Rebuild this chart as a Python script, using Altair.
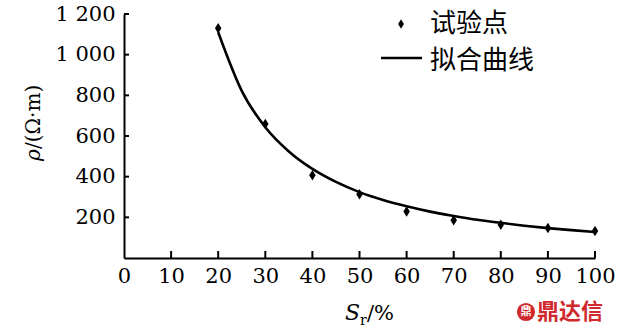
import altair as alt
import pandas as pd

# Measured points (试验点)
sr_pts = [20, 30, 40, 50, 60, 70, 80, 90, 100]
rho_pts = [1130, 659, 407, 314, 229, 186, 163, 148, 133]

# Fitted curve (拟合曲线)
sr_fit = [20, 25, 30, 35, 40, 45, 50, 55, 60, 65, 70, 75, 80, 85, 90, 95, 100]
rho_fit = [1110, 822, 643, 524, 438, 374, 324, 285, 254, 228, 207, 188, 173, 159, 147, 137, 128]

x_ticks = [0, 10, 20, 30, 40, 50, 60, 70, 80, 90, 100]
y_ticks = [200, 400, 600, 800, 1000, 1200]

W, H = 471, 244
SERIF = "DejaVu Serif"
CJK = "Noto Sans CJK SC"

pts = pd.DataFrame({"sr": sr_pts, "rho": rho_pts})
fit = pd.DataFrame({"sr": sr_fit, "rho": rho_fit})

xs = alt.Scale(domain=[0, 100], nice=False)
ys = alt.Scale(domain=[0, 1200], nice=False)

x_axis = alt.Axis(values=x_ticks, ticks=False, grid=False, title=None,
                  labelPadding=7, domainColor="black", domainWidth=2,
                  labelFlush=False, labelOverlap=False)
y_axis = alt.Axis(values=y_ticks, ticks=False, grid=False, title=None,
                  labelPadding=9, domainColor="black", domainWidth=2,
                  labelExpr="replace(format(datum.value, ','), ',', ' ')",
                  labelFlush=False, labelOverlap=False)

curve = alt.Chart(fit).mark_line(color="black", strokeWidth=2.6, interpolate="monotone").encode(
    x=alt.X("sr:Q", scale=xs, axis=x_axis),
    y=alt.Y("rho:Q", scale=ys, axis=y_axis),
)

DIAMOND = "M0,-1L0.62,0L0,1L-0.62,0Z"
points = alt.Chart(pts).mark_point(shape=DIAMOND, filled=True, color="black",
                                   size=110, opacity=1).encode(
    x=alt.X("sr:Q", scale=xs), y=alt.Y("rho:Q", scale=ys))

xt = pd.DataFrame({"v": x_ticks[1:]})
yt = pd.DataFrame({"v": y_ticks})
x_tick_marks = alt.Chart(xt).mark_rule(color="black", strokeWidth=2).encode(
    x=alt.X("v:Q", scale=xs), y=alt.value(H), y2=alt.value(H - 7))
y_tick_marks = alt.Chart(yt).mark_rule(color="black", strokeWidth=2).encode(
    y=alt.Y("v:Q", scale=ys), x=alt.value(0), x2=alt.value(5))

one = alt.Data(values=[{"a": 1}])


def txt(s, x, y, font=SERIF, size=21, style="normal", align="left",
        baseline="alphabetic", angle=0, color="black", weight="normal"):
    kw = dict(font=font, fontSize=size, fontStyle=style, align=align,
              baseline=baseline, color=color, fontWeight=weight)
    if angle:
        kw["angle"] = angle
    return alt.Chart(one).mark_text(**kw).encode(
        x=alt.value(x), y=alt.value(y), text=alt.value(s))


# x title S_r/%
xt1 = txt("S", 221, 306, style="italic", size=22)
xt2 = txt("r", 236, 311, size=14)
xt3 = txt("/%", 243, 306, size=21)

# y title rho/(Omega.m)
yt1 = txt("ρ", -84, 147, style="italic", size=20, angle=270)
yt2 = txt("/(Ω·m)", -84, 135, size=20, angle=270)

# legend
leg_pt = alt.Chart(one).mark_point(shape=DIAMOND, filled=True, color="black",
                                   size=90, opacity=1).encode(
    x=alt.value(277), y=alt.value(10))
leg_line = alt.Chart(one).mark_rule(color="black", strokeWidth=2.6).encode(
    x=alt.value(257), x2=alt.value(298), y=alt.value(44))
leg_t1 = txt("试验点", 306, 10, font=CJK, size=26, baseline="middle")
leg_t2 = txt("拟合曲线", 306, 47, font=CJK, size=26, baseline="middle")

# watermark
wm_circle = alt.Chart(one).mark_point(shape="circle", filled=True, color="#d0282c",
                                      size=330, opacity=1).encode(
    x=alt.value(402), y=alt.value(298))
wm_inner = txt("鼎", 402, 298, font=CJK, size=11, align="center", baseline="middle",
               color="white", weight="bold")
wm_text = txt("鼎达信", 413, 298, font=CJK, size=22, baseline="middle",
              color="#d0282c", weight="bold")

chart = alt.layer(
    curve, points, x_tick_marks, y_tick_marks,
    xt1, xt2, xt3, yt1, yt2,
    leg_pt, leg_line, leg_t1, leg_t2,
    wm_circle, wm_inner, wm_text,
).properties(
    width=W, height=H,
    autosize=alt.AutoSizeParams(type="none"),
    padding={"left": 124, "top": 14, "right": 24, "bottom": 77},
    background="white",
).configure_view(
    stroke=None
).configure_axis(
    labelFont=SERIF, labelFontSize=21, labelColor="black"
).configure_text(
    font=SERIF
)

chart.save("out.html", embed_options={"renderer": "svg", "actions": False})
